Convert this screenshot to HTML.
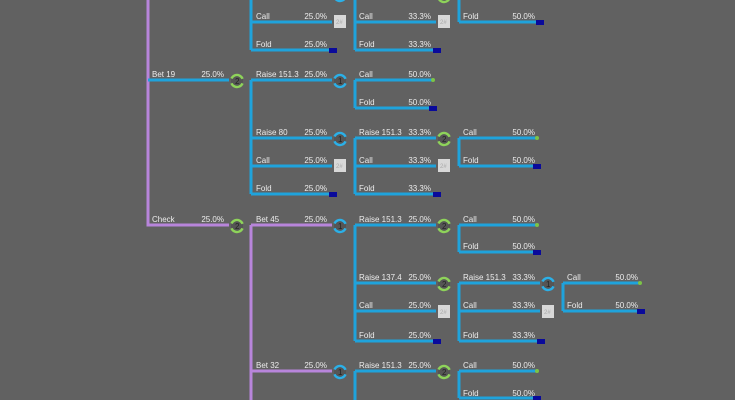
<!DOCTYPE html>
<html><head><meta charset="utf-8"><style>
html,body{margin:0;padding:0;background:#616161;}
svg{display:block;}
text{font-family:"Liberation Sans",sans-serif;font-size:8px;fill:#ececec;}
.b{stroke:#1fa3dc;stroke-width:3;fill:none;}
.p{stroke:#b885db;stroke-width:3;fill:none;}
</style></head><body>
<svg width="735" height="400" viewBox="0 0 735 400" xmlns="http://www.w3.org/2000/svg">
<defs>
<g id="ng"><circle r="6" fill="#555" stroke="#8ed35a" stroke-width="2.4" stroke-dasharray="14 4.85" transform="rotate(23)"/><text x="-2" y="3" style="font-size:8px;fill:#222">2</text></g>
<g id="nb"><circle r="6" fill="#555" stroke="#2bb0e8" stroke-width="2.4" stroke-dasharray="14 4.85" transform="rotate(23)"/><text x="-2" y="3" style="font-size:8px;fill:#222">1</text></g>
<g id="sq"><rect x="-6" y="-7" width="12" height="13" fill="#d8d8d8"/><text x="-4" y="2" style="font-size:6px;fill:#aaa">2#</text></g>
<g id="fd"><rect x="-4" y="-3" width="8" height="5" fill="#0a0a9a"/></g>
<g id="cd"><circle r="2" fill="#7cc447"/></g>
</defs>
<path class="p" d="M148 0 V225 H229"/>
<path class="p" d="M251 225 V400 M251 225 H332 M251 371 H332"/>
<path class="b" d="M148 80 H229"/>
<path class="b" d="M251 0 V50 M251 22 H332 M251 50 H332"/>
<path class="b" d="M355 -5 V50 M355 22 H436 M355 50 H436"/>
<path class="b" d="M459 -5 V22 M459 22 H540"/>
<path class="b" d="M251 80 V194 M251 80 H332 M251 138 H332 M251 166 H332 M251 194 H332"/>
<path class="b" d="M355 80 V108 M355 80 H432 M355 108 H432"/>
<path class="b" d="M355 138 V194 M355 138 H436 M355 166 H436 M355 194 H436"/>
<path class="b" d="M459 138 V166 M459 138 H536 M459 166 H536"/>
<path class="b" d="M355 225 V341 M355 225 H436 M355 283 H436 M355 311 H436 M355 341 H436"/>
<path class="b" d="M459 225 V252 M459 225 H536 M459 252 H536"/>
<path class="b" d="M459 283 V341 M459 283 H540 M459 311 H540 M459 341 H540"/>
<path class="b" d="M563 283 V311 M563 283 H640 M563 311 H640"/>
<path class="b" d="M355 371 V400 M355 371 H436"/>
<path class="b" d="M459 371 V398 M459 371 H536 M459 398 H536"/>
<use href="#nb" x="340" y="-5"/><use href="#ng" x="444" y="-4"/>
<use href="#sq" x="340" y="22"/><use href="#sq" x="444" y="22"/>
<use href="#fd" x="333" y="51"/><use href="#fd" x="437" y="51"/><use href="#fd" x="540" y="23"/>
<use href="#ng" x="237" y="81"/>
<use href="#nb" x="340" y="81"/><use href="#cd" x="433" y="80"/><use href="#fd" x="433" y="109"/>
<use href="#nb" x="340" y="139"/><use href="#ng" x="444" y="139"/>
<use href="#cd" x="537" y="138"/><use href="#fd" x="537" y="167"/>
<use href="#sq" x="340" y="166"/><use href="#sq" x="444" y="166"/>
<use href="#fd" x="333" y="195"/><use href="#fd" x="437" y="195"/>
<use href="#ng" x="237" y="226"/>
<use href="#nb" x="340" y="226"/><use href="#ng" x="444" y="226"/>
<use href="#cd" x="537" y="225"/><use href="#fd" x="537" y="253"/>
<use href="#ng" x="444" y="284"/><use href="#nb" x="548" y="284"/>
<use href="#cd" x="640" y="283"/><use href="#fd" x="641" y="312"/>
<use href="#sq" x="444" y="312"/><use href="#sq" x="548" y="312"/>
<use href="#fd" x="437" y="342"/><use href="#fd" x="541" y="342"/>
<use href="#nb" x="340" y="372"/><use href="#ng" x="444" y="372"/>
<use href="#cd" x="537" y="371"/><use href="#fd" x="537" y="399"/>
<g>
<text x="256" y="19">Call</text><text x="327" y="19" text-anchor="end">25.0%</text>
<text x="256" y="47">Fold</text><text x="327" y="47" text-anchor="end">25.0%</text>
<text x="359" y="19">Call</text><text x="431" y="19" text-anchor="end">33.3%</text>
<text x="359" y="47">Fold</text><text x="431" y="47" text-anchor="end">33.3%</text>
<text x="463" y="19">Fold</text><text x="535" y="19" text-anchor="end">50.0%</text>
<text x="152" y="77">Bet 19</text><text x="224" y="77" text-anchor="end">25.0%</text>
<text x="256" y="77">Raise 151.3</text><text x="327" y="77" text-anchor="end">25.0%</text>
<text x="359" y="77">Call</text><text x="431" y="77" text-anchor="end">50.0%</text>
<text x="359" y="105">Fold</text><text x="431" y="105" text-anchor="end">50.0%</text>
<text x="256" y="135">Raise 80</text><text x="327" y="135" text-anchor="end">25.0%</text>
<text x="359" y="135">Raise 151.3</text><text x="431" y="135" text-anchor="end">33.3%</text>
<text x="463" y="135">Call</text><text x="535" y="135" text-anchor="end">50.0%</text>
<text x="463" y="163">Fold</text><text x="535" y="163" text-anchor="end">50.0%</text>
<text x="256" y="163">Call</text><text x="327" y="163" text-anchor="end">25.0%</text>
<text x="359" y="163">Call</text><text x="431" y="163" text-anchor="end">33.3%</text>
<text x="256" y="191">Fold</text><text x="327" y="191" text-anchor="end">25.0%</text>
<text x="359" y="191">Fold</text><text x="431" y="191" text-anchor="end">33.3%</text>
<text x="152" y="222">Check</text><text x="224" y="222" text-anchor="end">25.0%</text>
<text x="256" y="222">Bet 45</text><text x="327" y="222" text-anchor="end">25.0%</text>
<text x="359" y="222">Raise 151.3</text><text x="431" y="222" text-anchor="end">25.0%</text>
<text x="463" y="222">Call</text><text x="535" y="222" text-anchor="end">50.0%</text>
<text x="463" y="249">Fold</text><text x="535" y="249" text-anchor="end">50.0%</text>
<text x="359" y="280">Raise 137.4</text><text x="431" y="280" text-anchor="end">25.0%</text>
<text x="463" y="280">Raise 151.3</text><text x="535" y="280" text-anchor="end">33.3%</text>
<text x="567" y="280">Call</text><text x="638" y="280" text-anchor="end">50.0%</text>
<text x="567" y="308">Fold</text><text x="638" y="308" text-anchor="end">50.0%</text>
<text x="359" y="308">Call</text><text x="431" y="308" text-anchor="end">25.0%</text>
<text x="463" y="308">Call</text><text x="535" y="308" text-anchor="end">33.3%</text>
<text x="359" y="338">Fold</text><text x="431" y="338" text-anchor="end">25.0%</text>
<text x="463" y="338">Fold</text><text x="535" y="338" text-anchor="end">33.3%</text>
<text x="256" y="368">Bet 32</text><text x="327" y="368" text-anchor="end">25.0%</text>
<text x="359" y="368">Raise 151.3</text><text x="431" y="368" text-anchor="end">25.0%</text>
<text x="463" y="368">Call</text><text x="535" y="368" text-anchor="end">50.0%</text>
<text x="463" y="396">Fold</text><text x="535" y="396" text-anchor="end">50.0%</text>
</g>
</svg>
</body></html>
